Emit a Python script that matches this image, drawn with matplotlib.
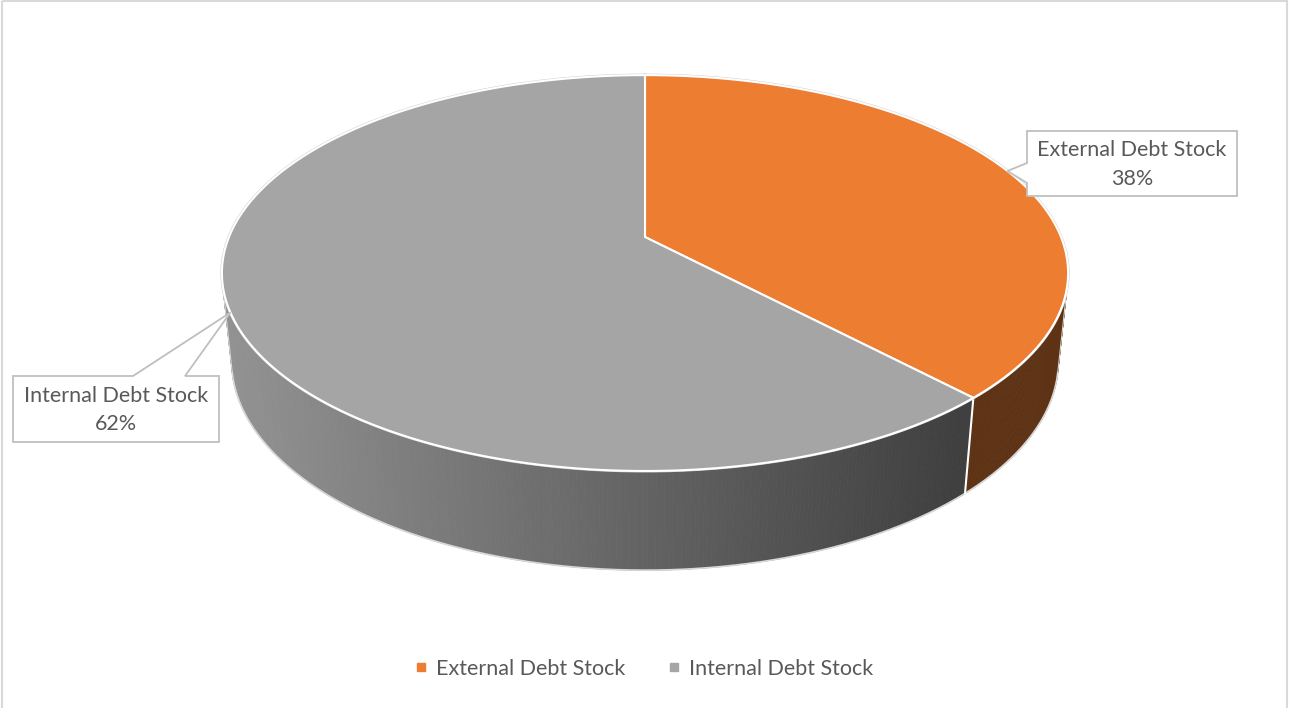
import numpy as np
import matplotlib
matplotlib.use('Agg')
import matplotlib.pyplot as plt
from matplotlib.patches import Polygon, Rectangle
from matplotlib.lines import Line2D

categories = ['External Debt Stock', 'Internal Debt Stock']
shares = [38, 62]
top_colors = ['#ED7D31', '#A5A5A5']

W, H = 1289, 708

# camera for the tilted disc (pixel units)
cx, cy = 645, 237
focal = 2028.0
dist = 4.875
tilt = np.arcsin(0.46)
sn, cs = np.sin(tilt), np.cos(tilt)
thick = 0.24


def project(phi, yw):
    # phi is measured clockwise from the back of the disc
    X = np.sin(phi)
    Z = np.cos(phi)
    depth = dist + Z * cs - yw * sn
    sx = cx + focal * X / depth
    sy = cy - focal * (yw * cs + Z * sn) / depth
    return sx, sy


total = float(sum(shares))
bounds = np.concatenate([[0], np.cumsum(shares) / total]) * 2 * np.pi

plt.rcParams['font.family'] = ['Lato', 'DejaVu Sans']
fig = plt.figure(figsize=(W / 100, H / 100), dpi=100)
ax = fig.add_axes([0, 0, 1, 1])
ax.set_xlim(0, W)
ax.set_ylim(H, 0)
ax.axis('off')

# side wall, only the part facing the viewer
vis_lo = np.arccos(-1 / (dist * cs))
vis_hi = 2 * np.pi - vis_lo
grey_left, grey_right = 0x92, 0x3f
for i in range(len(shares)):
    a0, a1 = max(bounds[i], vis_lo), min(bounds[i + 1], vis_hi)
    if a1 <= a0:
        continue
    edges = np.linspace(a0, a1, int(np.degrees(a1 - a0) * 2) + 2)
    for p0, p1 in zip(edges[:-1], edges[1:]):
        xt0, yt0 = project(p0, 0)
        xt1, yt1 = project(p1, 0)
        xb0, yb0 = project(p0, -thick)
        xb1, yb1 = project(p1, -thick)
        if i == 0:
            col = '#5E3315'
        else:
            t = np.clip(((xt0 + xt1) / 2 - 230) / (965 - 230), 0, 1)
            g = int(grey_left + (grey_right - grey_left) * t) / 255
            col = (g, g, g)
        ax.add_patch(Polygon([(xt0, yt0), (xt1, yt1), (xb1, yb1), (xb0, yb0)],
                             closed=True, facecolor=col, edgecolor=col,
                             linewidth=0.6, zorder=1))

# bottom rim and seams on the wall
rim = np.linspace(vis_lo, vis_hi, 400)
bx, by = project(rim, -thick)
ax.plot(bx, by, color='#d8d8d8', linewidth=1.2, zorder=2)
for b in bounds[1:-1]:
    if vis_lo < b < vis_hi:
        x0, y0 = project(b, 0)
        x1, y1 = project(b, -thick)
        ax.plot([x0, x1], [y0, y1], color='white', linewidth=1.5, zorder=2)
for a in (vis_lo, vis_hi):
    x0, y0 = project(a, 0)
    x1, y1 = project(a, -thick)
    ax.plot([x0, x1], [y0, y1], color='#d8d8d8', linewidth=0.8, zorder=2)

# top faces
ring = np.linspace(0, 2 * np.pi, 600)
ox, oy = project(ring, 0)
ax.plot(ox, oy, color='#d0d0d0', linewidth=2.2, zorder=3)
for i in range(len(shares)):
    arc = np.linspace(bounds[i], bounds[i + 1], 300)
    ax_, ay_ = project(arc, 0)
    pts = [(cx, cy)] + list(zip(ax_, ay_))
    ax.add_patch(Polygon(pts, closed=True, facecolor=top_colors[i],
                         edgecolor='white', linewidth=1.5, zorder=4))

# data callouts
boxes = [(1027, 131, 1237, 196, 'left'), (13, 376, 219, 442, 'top')]
for i, (x0, y0, x1, y1, side) in enumerate(boxes):
    mid = (bounds[i] + bounds[i + 1]) / 2
    tx, ty = project(mid, 0)
    if side == 'left':
        verts = [(x0, y0), (x1, y0), (x1, y1), (x0, y1),
                 (x0, 183), (tx, ty), (x0, 163)]
    else:
        verts = [(x0, y0), (133, y0), (tx, ty), (185, y0), (x1, y0),
                 (x1, y1), (x0, y1)]
    ax.add_patch(Polygon(verts, closed=True, facecolor='white',
                         edgecolor='#BFBFBF', linewidth=1.3, zorder=6))
    ax.text((x0 + x1) / 2, (y0 + y1) / 2 + 1,
            f'{categories[i]}\n{shares[i] / total:.0%}',
            ha='center', va='center', fontsize=15.5, color='#595959',
            linespacing=1.55, zorder=7)

# chart border
ax.add_patch(Rectangle((1.5, 0.5), W - 3.5, H + 2, fill=False,
                       edgecolor='#D9D9D9', linewidth=1.5, zorder=8))

handles = [Line2D([], [], linestyle='none', marker='s', markersize=6,
                  markerfacecolor=c, markeredgecolor=c) for c in top_colors]
ax.legend(handles, categories, loc='center', bbox_to_anchor=(0.5, 1 - 669 / H),
          ncol=2, frameon=False, fontsize=15.5, labelcolor='#595959',
          handlelength=0.5, handletextpad=0.45, columnspacing=2.0)

fig.savefig('out.png', dpi=100)
